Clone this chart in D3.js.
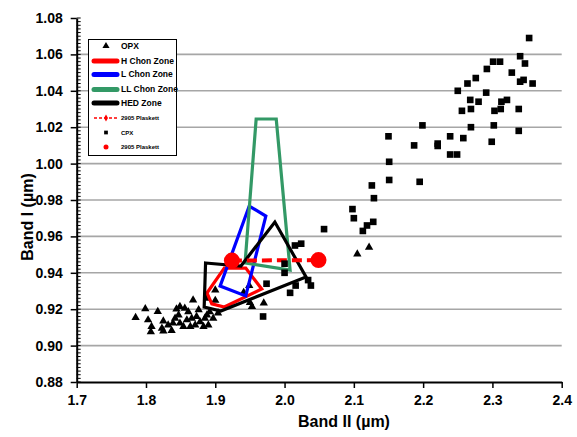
<!DOCTYPE html>
<html>
<head>
<meta charset="utf-8">
<script src="https://cdn.jsdelivr.net/npm/d3@7"></script>
<style>
  html, body { margin: 0; padding: 0; background: #fff; }
  svg { display: block; font-family: "Liberation Sans", Arial, sans-serif; }
</style>
</head>
<body>
<svg id="chart" width="577" height="437"></svg>
<script>
// ---------- data ----------
const xTicks = [1.7, 1.8, 1.9, 2.0, 2.1, 2.2, 2.3, 2.4];
const yTicks = [0.88, 0.90, 0.92, 0.94, 0.96, 0.98, 1.00, 1.02, 1.04, 1.06, 1.08];

const opxPoints = [
  [1.785,0.9154],[1.799,0.9202],[1.817,0.9187],[1.803,0.9141],[1.808,0.9104],[1.807,0.9076],
  [1.823,0.9095],[1.825,0.9135],[1.825,0.9080],[1.837,0.9082],[1.832,0.9113],[1.844,0.9201],
  [1.849,0.9214],[1.856,0.9205],[1.861,0.9186],[1.847,0.9168],[1.842,0.9150],[1.839,0.9123],
  [1.849,0.9123],[1.859,0.9141],[1.854,0.9104],[1.866,0.9150],[1.873,0.9159],[1.878,0.9131],
  [1.871,0.9113],[1.885,0.9150],[1.888,0.9168],[1.890,0.9113],[1.883,0.9104],[1.892,0.9186],
  [1.897,0.9150],[1.864,0.9104],[1.868,0.9250],[1.900,0.9248],[1.900,0.9305],[1.888,0.9260],
  [1.949,0.9330],[1.941,0.9292],[1.970,0.9234],[1.950,0.9236],[1.953,0.9214],[1.876,0.9196],
  [1.904,0.9179],[2.122,0.9540],[2.105,0.9503]
];

const cpxPoints = [
  [2.353,1.069],[2.340,1.059],[2.347,1.055],[2.301,1.056],[2.311,1.056],[2.292,1.052],
  [2.328,1.050],[2.276,1.047],[2.264,1.044],[2.340,1.045],[2.345,1.046],[2.358,1.044],
  [2.250,1.040],[2.291,1.039],[2.268,1.035],[2.280,1.034],[2.313,1.034],[2.321,1.035],
  [2.256,1.029],[2.269,1.030],[2.303,1.029],[2.312,1.030],[2.338,1.030],[2.199,1.021],
  [2.269,1.020],[2.302,1.021],[2.338,1.018],[2.239,1.015],[2.258,1.014],[2.187,1.010],
  [2.221,1.011],[2.221,1.0097],[2.239,1.005],[2.249,1.005],[2.299,1.012],
  [2.150,1.015],[2.151,1.001],[2.151,0.991],[2.195,0.990],[2.126,0.988],[2.129,0.981],
  [2.098,0.975],[2.100,0.970],[2.119,0.966],[2.128,0.968],[2.113,0.963],
  [2.057,0.964],[2.015,0.955],[2.024,0.956],[2.000,0.945],[2.000,0.940],[1.974,0.934],
  [2.034,0.936],[2.038,0.933],[2.016,0.933],[2.008,0.929],[1.969,0.916]
];

const hChonZone  = [[1.913,0.9426],[1.888,0.9289],[1.895,0.9229],[1.913,0.9212],[1.967,0.9311],[1.944,0.9426]];
const lChonZone  = [[1.949,0.9767],[1.973,0.9712],[1.944,0.9273],[1.907,0.9327]];
const llChonZone = [[1.959,1.0245],[1.988,1.0245],[2.008,0.9415],[1.943,0.9454]];
const hedZone    = [[1.886,0.9454],[1.937,0.9437],[1.986,0.9679],[2.031,0.9377],[1.908,0.9190],[1.884,0.9212]];
const plaskettLine = [[1.924,0.9467],[2.049,0.9470]];
const plaskettDots = [[1.924,0.9467],[2.049,0.9470]];

const legendItems = ["OPX","H Chon Zone","L Chon Zone","LL Chon Zone","HED Zone","2905 Plaskett","CPX","2905 Plaskett"];

// ---------- chart ----------
const svg = d3.select("#chart");
svg.append("rect").attr("width",577).attr("height",437).attr("fill","#fff");

const x = d3.scaleLinear().domain([1.7, 2.4]).range([76.7, 561.7]);
const y = d3.scaleLinear().domain([0.88, 1.08]).range([382, 18]);

// gridlines
svg.append("g").selectAll("line")
  .data(yTicks.filter(v => v > 0.885 && v < 1.075))
  .join("line")
  .attr("x1", x(1.7)).attr("x2", x(2.4))
  .attr("y1", d => y(d)).attr("y2", d => y(d))
  .attr("stroke", "#a6a6a6").attr("stroke-width", 1.6);

// minor y ticks (inside)
const minor = d3.range(0, 101).map(i => 0.88 + i * 0.002);
svg.append("g").selectAll("line").data(minor).join("line")
  .attr("x1", x(1.7)).attr("x2", x(1.7) + 4)
  .attr("y1", d => y(d)).attr("y2", d => y(d))
  .attr("stroke", "#000").attr("stroke-width", 1);

// axes
const xAxis = svg.append("g").attr("transform", `translate(0,${y(0.88)})`)
  .call(d3.axisBottom(x).tickValues(xTicks).tickFormat(d3.format(".1f")).tickSizeInner(6).tickSizeOuter(0).tickPadding(7));
const yAxis = svg.append("g").attr("transform", `translate(${x(1.7)},0)`)
  .call(d3.axisLeft(y).tickValues(yTicks).tickFormat(d3.format(".2f")).tickSizeInner(6).tickSizeOuter(0).tickPadding(8));
[xAxis, yAxis].forEach(g => {
  g.select(".domain").attr("stroke", "#000").attr("stroke-width", 2);
  g.selectAll(".tick line").attr("stroke", "#000").attr("stroke-width", 1.5);
  g.selectAll(".tick text").attr("font-size", 14).attr("font-weight", "bold")
    .attr("fill", "#000").attr("font-family", "Liberation Sans, Arial, sans-serif");
});

// axis titles
svg.append("text").attr("x", 344).attr("y", 427).attr("text-anchor", "middle")
  .attr("font-size", 16).attr("font-weight", "bold").text("Band II (µm)");
svg.append("text").attr("transform", "translate(33,217) rotate(-90)").attr("text-anchor", "middle")
  .attr("font-size", 16).attr("font-weight", "bold").text("Band I (µm)");

const tri = d3.symbol().type(d3.symbolTriangle).size(30);
const sq = d3.symbol().type(d3.symbolSquare).size(44);
const line = d3.line().x(d => x(d[0])).y(d => y(d[1]));
const closed = d3.line().x(d => x(d[0])).y(d => y(d[1])).curve(d3.curveLinearClosed);

// OPX
svg.append("g").selectAll("path").data(opxPoints).join("path")
  .attr("d", tri).attr("transform", d => `translate(${x(d[0])},${y(d[1])})`).attr("fill", "#000");

// zones
const zones = [
  {data: hChonZone, color: "#ff0000"},
  {data: lChonZone, color: "#0000ff"},
  {data: llChonZone, color: "#339966"},
  {data: hedZone, color: "#000000"}
];
zones.forEach(z => {
  svg.append("path").attr("d", closed(z.data)).attr("fill", "none")
    .attr("stroke", z.color).attr("stroke-width", 3.2).attr("stroke-linejoin", "miter");
});

// Plaskett dashed
svg.append("path").attr("d", line(plaskettLine)).attr("fill", "none")
  .attr("stroke", "#ff0000").attr("stroke-width", 4).attr("stroke-dasharray", "10,5");

// CPX
svg.append("g").selectAll("path").data(cpxPoints).join("path")
  .attr("d", sq).attr("transform", d => `translate(${x(d[0])},${y(d[1])})`).attr("fill", "#000");

// Plaskett dots
svg.append("g").selectAll("circle").data(plaskettDots).join("circle")
  .attr("cx", d => x(d[0])).attr("cy", d => y(d[1])).attr("r", 8).attr("fill", "#ff0000");

// legend
const lg = svg.append("g");
lg.append("rect").attr("x", 88.5).attr("y", 39.5).attr("width", 88).attr("height", 116)
  .attr("fill", "#fff").attr("stroke", "#000").attr("stroke-width", 1);
const rows = [46, 61, 74.5, 89.5, 103, 118, 132.5, 147];
const lx1 = 94, lx2 = 117, mx = 106, tx = 121;
// OPX
lg.append("path").attr("d", d3.symbol().type(d3.symbolTriangle).size(22)())
  .attr("transform", `translate(${mx},${rows[0]})`).attr("fill", "#000");
// zone lines
zones.forEach((z, i) => {
  lg.append("line").attr("x1", lx1).attr("x2", lx2).attr("y1", rows[i+1]).attr("y2", rows[i+1])
    .attr("stroke", z.color).attr("stroke-width", 5).attr("stroke-linecap", "round");
});
// dashed
lg.append("line").attr("x1", lx1).attr("x2", lx2).attr("y1", rows[5]).attr("y2", rows[5])
  .attr("stroke", "#ff0000").attr("stroke-width", 1.3).attr("stroke-dasharray", "3,2");
lg.append("path").attr("d", d3.symbol().type(d3.symbolDiamond).size(14)())
  .attr("transform", `translate(${mx},${rows[5]})`).attr("fill", "#ff0000");
// CPX
lg.append("path").attr("d", d3.symbol().type(d3.symbolSquare).size(14)())
  .attr("transform", `translate(${mx},${rows[6]})`).attr("fill", "#000");
// dot
lg.append("circle").attr("cx", mx).attr("cy", rows[7]).attr("r", 2.5).attr("fill", "#ff0000");

legendItems.forEach((t, i) => {
  const small = i >= 5;
  lg.append("text").attr("x", tx).attr("y", rows[i]).attr("dy", "0.35em")
    .attr("font-size", small ? 6 : 8.5).attr("font-weight", "bold").attr("fill", "#000").text(t);
});
</script>
</body>
</html>
